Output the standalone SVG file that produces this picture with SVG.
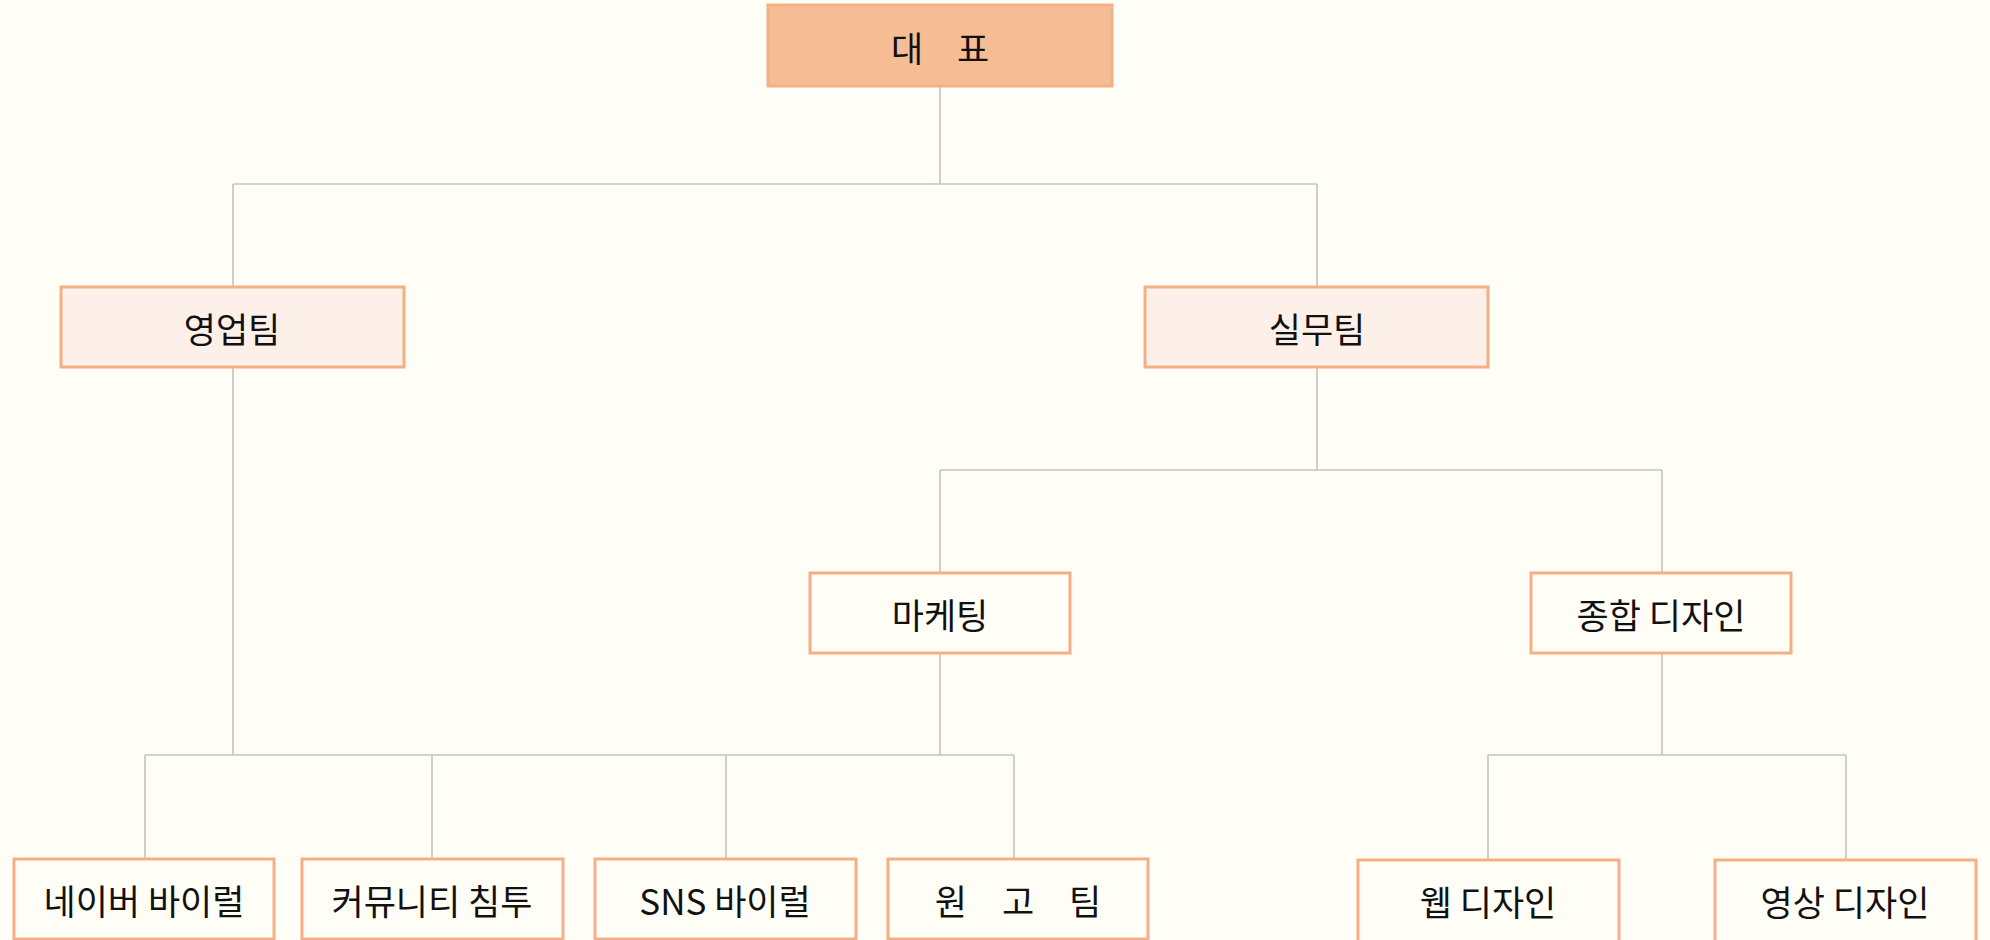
<svg xmlns="http://www.w3.org/2000/svg" width="1990" height="940" viewBox="0 0 1990 940">
<style>
.bg{fill:#FFFEF6}
.node rect{stroke:#F4B084;stroke-width:3}
.n0 rect{fill:#F6BD95}
.n1 rect{fill:#FCF0E8}
.n2 rect{fill:#FFFEF6}
text{font-family:"Noto Sans CJK KR","Noto Sans",sans-serif;font-size:35px;font-weight:400;fill:#111;text-anchor:middle;dominant-baseline:central}
#connectors path{fill:none;stroke:#C3C3C3;stroke-width:1.6}
</style>
<rect class="bg" x="0" y="0" width="1990" height="940"/>
<g id="connectors">
<path d="M940,87 V184 M233,184 H1317 M233,184 V287 M1317,184 V287"/>
<path d="M1317,367 V470 M940,470 H1662 M940,470 V572 M1662,470 V572"/>
<path d="M233,367 V755 M940,652 V755 M145,755 H1014 M145,755 V858 M432,755 V858 M726,755 V858 M1014,755 V858"/>
<path d="M1662,653 V755 M1488,755 H1846 M1488,755 V859 M1846,755 V859"/>
</g>
<g id="ceo" class="node n0"><rect x="768" y="5" width="344" height="81"/><text x="940" y="46" style="word-spacing:26px">대 표</text></g>
<g id="sales" class="node n1"><rect x="61" y="287" width="343" height="80"/><text x="232" y="327">영업팀</text></g>
<g id="ops" class="node n1"><rect x="1145" y="287" width="343" height="80"/><text x="1317" y="327">실무팀</text></g>
<g id="marketing" class="node n2"><rect x="810" y="573" width="260" height="80"/><text x="940" y="613">마케팅</text></g>
<g id="design" class="node n2"><rect x="1531" y="573" width="260" height="80"/><text x="1661" y="613">종합 디자인</text></g>
<g id="naver" class="node n2"><rect x="14" y="859" width="260" height="80"/><text x="144" y="899">네이버 바이럴</text></g>
<g id="community" class="node n2"><rect x="302" y="859" width="261" height="80"/><text x="432" y="899">커뮤니티 침투</text></g>
<g id="sns" class="node n2"><rect x="595" y="859" width="261" height="80"/><text x="725" y="899">SNS 바이럴</text></g>
<g id="copy" class="node n2"><rect x="888" y="859" width="260" height="80"/><text x="1018" y="899" style="word-spacing:27px">원 고 팀</text></g>
<g id="web" class="node n2"><rect x="1358" y="860" width="261" height="82"/><text x="1488" y="900">웹 디자인</text></g>
<g id="video" class="node n2"><rect x="1715" y="860" width="261" height="82"/><text x="1845" y="900">영상 디자인</text></g>
</svg>
